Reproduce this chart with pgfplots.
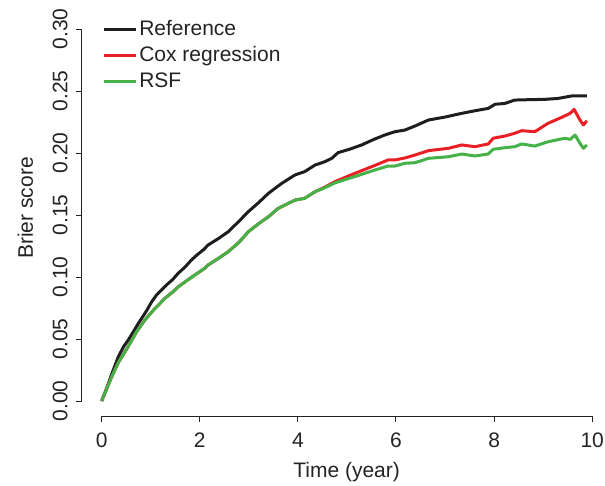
\documentclass[border=0pt]{standalone}
\usepackage{fontspec}
\setmainfont{Liberation Sans}
\usepackage{pgfplots}
\pgfplotsset{compat=1.18}

\definecolor{refc}{RGB}{30,30,30}
\definecolor{coxc}{RGB}{232,32,38}
\definecolor{rsfc}{RGB}{68,178,72}
\definecolor{txt}{RGB}{35,35,35}

\pgfplotstableread{
x y
0 0
0.1 0.010
0.2 0.021
0.34 0.0357
0.45 0.044
0.54 0.049
0.65 0.056
0.75 0.0627
0.92 0.073
1.02 0.080
1.12 0.0855
1.32 0.0935
1.45 0.098
1.56 0.103
1.70 0.108
1.83 0.1137
1.95 0.118
2.07 0.1218
2.17 0.1258
2.38 0.131
2.58 0.1365
2.80 0.145
2.99 0.1527
3.20 0.160
3.40 0.1675
3.67 0.1755
3.94 0.1823
4.14 0.185
4.35 0.1903
4.55 0.193
4.69 0.1957
4.82 0.2003
5.05 0.203
5.30 0.2065
5.55 0.211
5.77 0.2145
5.98 0.2172
6.18 0.2185
6.40 0.222
6.66 0.2266
7.00 0.229
7.34 0.232
7.60 0.234
7.88 0.236
8.02 0.2393
8.22 0.240
8.42 0.2427
8.70 0.243
9.04 0.2433
9.30 0.244
9.58 0.246
9.89 0.246
}\reftab

\pgfplotstableread{
x y
0 0
0.1 0.0095
0.2 0.019
0.34 0.031
0.45 0.038
0.54 0.0438
0.70 0.055
0.88 0.0653
1.05 0.073
1.29 0.0828
1.45 0.088
1.56 0.092
1.75 0.0975
1.90 0.1016
2.10 0.107
2.17 0.1097
2.38 0.115
2.58 0.1204
2.80 0.128
2.99 0.1365
3.20 0.143
3.40 0.1486
3.60 0.1554
3.94 0.162
4.14 0.1635
4.35 0.1688
4.55 0.1725
4.76 0.177
5.16 0.1836
5.57 0.190
5.84 0.1944
5.98 0.1944
6.18 0.196
6.39 0.1984
6.66 0.2019
7.07 0.2038
7.34 0.2065
7.61 0.2051
7.88 0.2073
7.98 0.2119
8.22 0.2137
8.42 0.2159
8.56 0.218
8.83 0.2172
9.10 0.224
9.38 0.2288
9.55 0.232
9.63 0.2352
9.75 0.2266
9.82 0.2226
9.89 0.226
}\coxtab

\pgfplotstableread{
x y
0 0
0.1 0.0095
0.2 0.019
0.34 0.031
0.45 0.038
0.54 0.0438
0.70 0.055
0.88 0.0653
1.05 0.073
1.29 0.0828
1.45 0.088
1.56 0.092
1.75 0.0975
1.90 0.1016
2.10 0.107
2.17 0.1097
2.38 0.115
2.58 0.1204
2.80 0.128
2.99 0.1365
3.20 0.143
3.40 0.1486
3.60 0.1554
3.94 0.162
4.14 0.1635
4.35 0.1688
4.55 0.172
4.76 0.176
5.16 0.181
5.57 0.1863
5.84 0.1895
5.98 0.1895
6.18 0.1917
6.39 0.1922
6.66 0.1957
7.07 0.197
7.34 0.1992
7.61 0.1976
7.88 0.1992
7.98 0.203
8.22 0.2043
8.42 0.2051
8.56 0.2073
8.83 0.2056
9.10 0.2091
9.44 0.2119
9.55 0.211
9.65 0.2145
9.75 0.2078
9.82 0.2038
9.89 0.2065
}\rsftab

\begin{document}
\begin{tikzpicture}
\begin{axis}[
    name=ax,
    scale only axis,
    width=261.5pt, height=208pt,
    xmin=-0.40, xmax=10.26,
    ymin=-0.0121, ymax=0.3234,
    axis line style={draw=none},
    xtick={0,2,4,6,8,10},
    ytick={0,0.05,0.10,0.15,0.20,0.25,0.30},
    yticklabels={0.00,0.05,0.10,0.15,0.20,0.25,0.30},
    xtick pos=bottom, ytick pos=left,
    tick align=outside,
    major tick length=2.75pt,
    major tick style={txt, line width=0.5pt},
    /pgf/number format/assume math mode=true,
    tick label style={font=\fontsize{10.5}{12.6}\selectfont, text=txt},
    yticklabel style={xshift=-4.2pt, rotate=90, anchor=south, inner sep=0pt},
    xticklabel style={anchor=north, inner sep=0pt, yshift=-5.5pt},
    xlabel={Time (year)},
    ylabel={Brier score},
    label style={font=\fontsize{10.5}{12.6}\selectfont, text=txt},
    xlabel style={at={([yshift=-30.5pt]rel axis cs:0.506,0)}, anchor=base, inner sep=0pt},
    ylabel style={at={([xshift=-24.5pt]rel axis cs:0,0.5)}, anchor=base, inner sep=0pt},
    clip=false,
    legend style={at={(rel axis cs:0.038,0.96)}, anchor=north west, draw=none, fill=none,
        font=\fontsize{10.5}{12.6}\selectfont, text=txt, inner sep=0pt, row sep=0.5pt,
        nodes={inner sep=1pt, text height=8pt, text depth=2.5pt}},
    legend cell align=left,
    legend image code/.code={\draw[#1] (0pt,0pt) -- (14.5pt,0pt); \path (0pt,0pt) -- (16pt,0pt);},
    every axis plot/.append style={line width=1.5pt, line join=round},
]
\addplot[refc] table {\reftab};
\addplot[coxc] table {\coxtab};
\addplot[rsfc] table {\rsftab};
\legend{Reference, Cox regression, RSF}
\draw[txt, line width=0.5pt] ({axis cs:0,0} |- {rel axis cs:0,0}) -- ({axis cs:10,0} |- {rel axis cs:0,0});
\draw[txt, line width=0.5pt] ({rel axis cs:0,0} |- {axis cs:0,0}) -- ({rel axis cs:0,0} |- {axis cs:0,0.3});
\end{axis}
\pgfresetboundingbox
\path[use as bounding box] ([xshift=-41pt,yshift=-34.5pt]ax.south west) rectangle (ax.north east);
\end{tikzpicture}
\end{document}
